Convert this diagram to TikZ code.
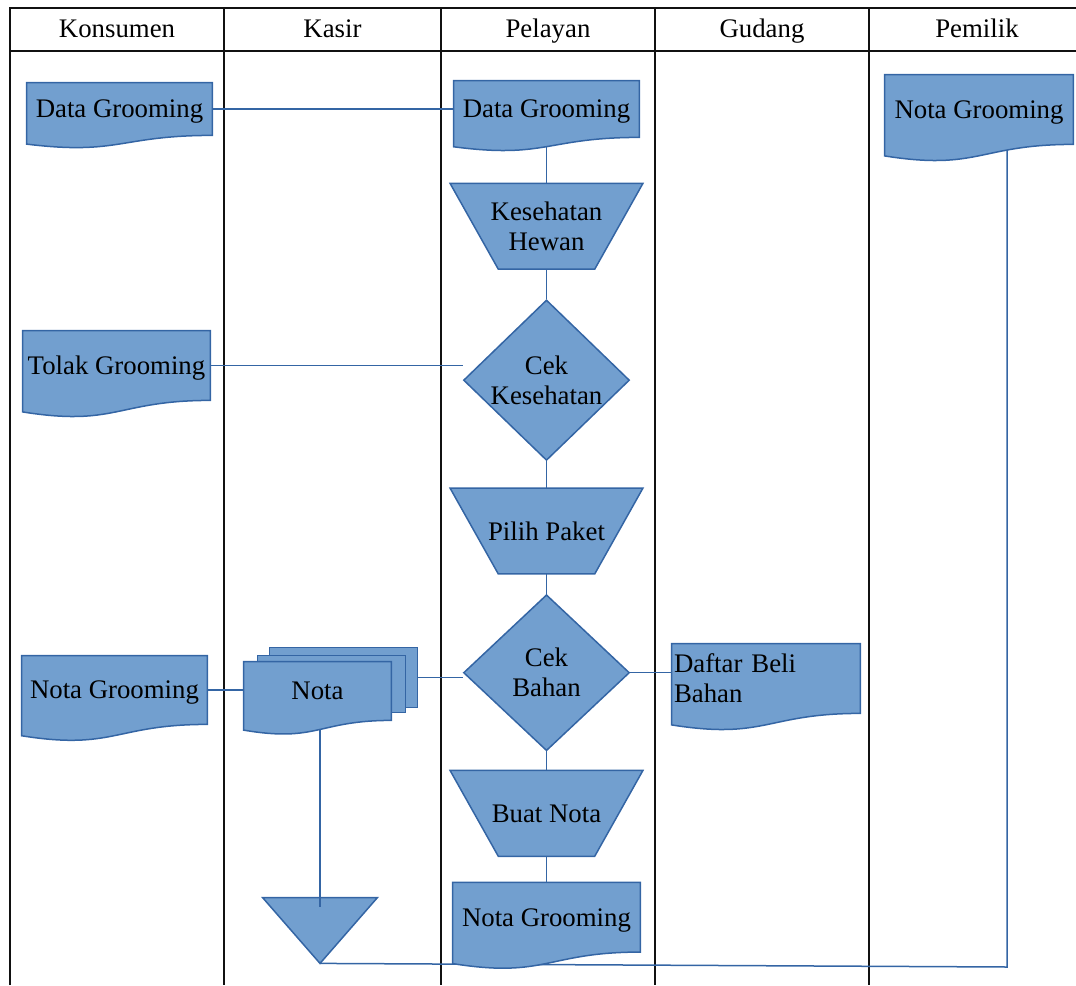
\documentclass[tikz,border=0pt]{standalone}
\usepackage{fontspec}
\setmainfont{Liberation Serif}
\usepackage{tikz}
\usetikzlibrary{positioning,shapes.geometric,calc,backgrounds}
\definecolor{docblue}{HTML}{729FCF}
\definecolor{lineblue}{HTML}{3465A4}
\definecolor{lanegrey}{HTML}{111111}

% document symbol under a named box: flat top, wavy bottom below the box
\newcommand\docpath[1]{%
  \path[ink] let \p1 = (#1.north west), \p2 = (#1.south east),
                 \n1 = {0.165*(\y1-\y2)}, \n2 = {0.38*(\y1-\y2)},
                 \n3 = {(\x1+\x2)/2} in
    (\p1) -- (\x2,\y1) -- (\p2)
    .. controls ({\n3*1pt},\y2) and ({\n3*1pt},{\y2-\n2}) .. (\x1,{\y2-\n1}) -- cycle;}

\begin{document}
\begin{tikzpicture}[
  % one pixel of the sketch is half a point, y runs downwards
  x=0.5pt, y=-0.5pt,
  font=\fontsize{13.4}{15}\selectfont,
  hdr/.style      = {anchor=base, inner sep=0pt},
  % no depth, so a word with a descender sits as high as one without
  paper/.style    = {inner sep=0pt, align=center, text depth=0pt},
  sheetbox/.style = {inner sep=0pt, minimum width=73.5pt},
  manual/.style   = {inner sep=0pt, align=center, text depth=0pt,
                     minimum width=96pt, minimum height=42.5pt},
  choice/.style   = {diamond, draw=lineblue, fill=docblue, line width=0.75pt, inner sep=0pt,
                     minimum width=83pt, minimum height=78pt, align=center},
  ink/.style      = {fill=docblue, draw=lineblue, line width=0.75pt},
  flow/.style     = {draw=lineblue, line width=0.75pt},
  lane/.style     = {draw=lanegrey, line width=0.9pt},
]
\useasboundingbox (0,0) rectangle (1076,985);

% ------------------------------------------------------------------ header --
\node[hdr] (hkon) at (117,38)   {Konsumen};
\node[hdr] (hkas) at (332.5,38) {Kasir};
\node[hdr] (hpel) at (548,38)   {Pelayan};
\node[hdr] (hgud) at (762,38)   {Gudang};
\node[hdr] (hpem) at (977,38)   {Pemilik};

% ---------------------------------------------------------------- konsumen --
\node[paper, minimum width=92.5pt, minimum height=26pt] (kdata) at (119.5,109) {Data Grooming};
\node[paper, minimum width=93.5pt, minimum height=34.5pt] (ktolak) at (116.5,365.5) {Tolak Grooming};
\node[paper, minimum width=92.5pt, minimum height=34pt] (knota) at (114.5,690) {Nota Grooming};

% ------------------------------------------------------------------- kasir --
\node[sheetbox, minimum height=29.5pt] (nota3) at (343.5,677.5) {};
\node[sheetbox, minimum height=28pt] (nota2) at (331.5,684) {};
\node[paper, minimum width=73.5pt, minimum height=29pt] (nota) at (317.5,691) {Nota};
\node[inner sep=0pt, minimum width=57pt, minimum height=32.5pt] (arsip) at (320,930.5) {};

% ----------------------------------------------------------------- pelayan --
\node[paper, minimum width=92.5pt, minimum height=28pt] (pdata) at (546.5,109) {Data Grooming};
\node[manual, below=23pt of pdata] (kes) {Kesehatan\\Hewan};
\node[choice, below=15pt of kes] (cekkes) {Cek\\Kesehatan};
\node[manual, below=13.5pt of cekkes] (pilih) {Pilih Paket};
\node[choice, below=10pt of pilih] (cekbahan) {Cek\\Bahan};
\node[manual, below=9.5pt of cekbahan] (buat) {Buat Nota};
\node[paper, minimum width=93.5pt, minimum height=34.5pt, below=13pt of buat] (pnota) {Nota Grooming};

% ------------------------------------------------------------------ gudang --
\node[inner sep=0pt, minimum width=94pt, minimum height=34.5pt, text width=92pt, align=left]
  (daftar) at (766,678.5) {Daftar Beli\\Bahan};

% ----------------------------------------------------------------- pemilik --
\node[paper, minimum width=94pt, minimum height=34.5pt] (pemnota) at (979,109.5) {Nota Grooming};
\coordinate (belok) at (1007,967);

% ------------------------------------------- lanes, lines, then the shapes --
\begin{scope}[on background layer]
  \draw[lane] (10,985) -- (10,8) -- (1076,8);
  \draw[lane] (10,51) -- (1076,51);
  \foreach \lx in {224,441,655,869} \draw[lane] (\lx,8) -- (\lx,985);

  % the line from the Nota stack runs a little way into the triangle
  \path[ink] (arsip.north west) -- (arsip.north east) -- (arsip.south) -- cycle;

  \draw[flow] (kdata.east) -- (pdata.west);
  \draw[flow] (pdata) -- (kes);
  \draw[flow] (kes) -- (cekkes);
  \draw[flow] (cekkes) -- (pilih);
  \draw[flow] (pilih) -- (cekbahan);
  \draw[flow] (cekbahan) -- (buat);
  \draw[flow] (buat) -- (pnota);
  \draw[flow] (ktolak.east) -- (ktolak.east -| cekkes.west);
  \draw[flow] (knota.east) -- (knota.east -| nota.west);
  \draw[flow] (nota3.east) -- (nota3.east -| cekbahan.west);
  \draw[flow] (cekbahan.east) -- (cekbahan.east -| daftar.west);
  \draw[flow, shorten >=-4.5pt] (nota.south -| arsip.north) -- (arsip.north);
  \draw[flow] (pemnota.south -| belok) -- (belok) -- (arsip.south);

  \foreach \s in {nota3,nota2} {\path[ink] (\s.north west) rectangle (\s.south east);}
  \foreach \d in {kdata,ktolak,knota,nota,pdata,pnota,daftar,pemnota} {\docpath{\d}}
  \foreach \m in {kes,pilih,buat}
    {\path[ink] (\m.north west) -- (\m.north east) -- ($(\m.south east)!0.25!(\m.south west)$)
       -- ($(\m.south west)!0.25!(\m.south east)$) -- cycle;}
\end{scope}

\end{tikzpicture}
\end{document}
